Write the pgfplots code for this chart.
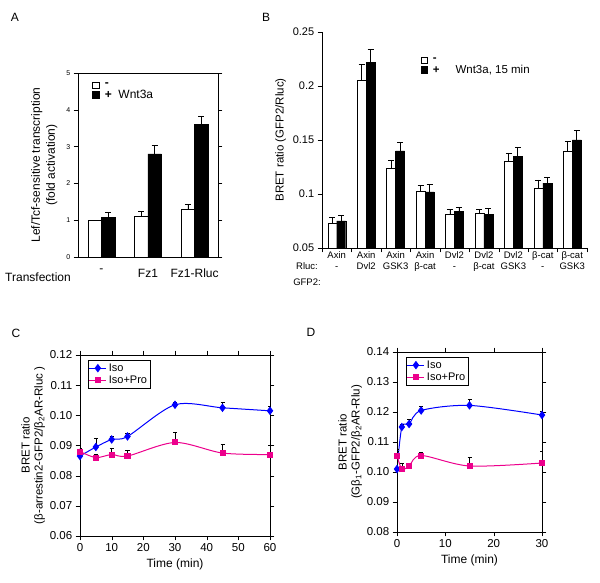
\documentclass[border=0pt]{standalone}
\usepackage{pgfplots}
\pgfplotsset{compat=1.18}
\usepackage{fontspec}
\setmainfont{Liberation Sans}
\begin{document}
\begin{tikzpicture}
\path (0pt,0pt) rectangle (600pt,582pt);
\pgfplotsset{every axis/.append style={/pgf/number format/assume math mode=true, scale only axis, tick align=outside, tick style={black}, font=\fontsize{11.5}{13}\selectfont, legend cell align=left}}
\node[font=\fontsize{12}{14}\selectfont] at (15pt,565pt) {A};
\node[font=\fontsize{12}{14}\selectfont] at (266pt,565pt) {B};
\node[font=\fontsize{12}{14}\selectfont] at (16pt,249pt) {C};
\node[font=\fontsize{12}{14}\selectfont] at (311pt,250pt) {D};
% Panel A
\begin{axis}[at={(78pt,325pt)}, anchor=south west, width=140pt, height=184pt,
 ybar=0pt, bar width=13.5pt, xmin=-0.5, xmax=2.5, ymin=0, ymax=5, ytick={0,1,2,3,4,5},
 yticklabel style={font=\fontsize{7}{8}\selectfont}, xtick=data, xticklabels={-,Fz1,Fz1-Rluc},
 xtick style={draw=none}, xticklabel style={font=\fontsize{12}{14}\selectfont, yshift=-4pt},
 ylabel={Lef/Tcf-sensitive transcription\\(fold activation)}, ylabel style={align=center, font=\fontsize{12}{15}\selectfont, yshift=2pt},
 legend style={draw=none, fill=none, at={(0.08,0.97)}, anchor=north west, font=\fontsize{12}{14}\selectfont, row sep=-2pt},
 legend image code/.code={\draw[#1, draw=black, line width=0.8pt] (0cm,-0.12cm) rectangle (0.22cm,0.12cm);},
 error bars/y dir=plus, error bars/y explicit, error bars/error bar style={black, line width=0.8pt}, error bars/error mark options={rotate=90, mark size=3pt, black, line width=0.8pt}]
\addplot[fill=white, draw=black] coordinates {(0,1) +- (0,0) (1,1.1) +- (0,0.13) (2,1.3) +- (0,0.13)};
\addplot[fill=black, draw=black] coordinates {(0,1.07) +- (0,0.15) (1,2.8) +- (0,0.24) (2,3.6) +- (0,0.23)};
\legend{\ \textbf{-},\ \textbf{+}\ \ Wnt3a}
\end{axis}
\node[font=\fontsize{12}{14}\selectfont] at (38pt,305pt) {Transfection};
% Panel B
\begin{axis}[at={(322pt,334pt)}, anchor=south west, width=265pt, height=216pt, axis lines*=left,
 ybar=0pt, bar width=9pt, xmin=-0.5, xmax=8.5, ymin=0.05, ymax=0.25, ytick={0.05,0.1,0.15,0.2,0.25},
 yticklabels={0.05,0.1,0.15,0.2,0.25}, yticklabel style={font=\fontsize{11}{12}\selectfont},
 xtick={-0.5,0.5,...,8.5}, xticklabels={}, major x tick style={draw=black},
 extra x ticks={0,...,8}, extra x tick style={major tick length=0pt},
 extra x tick labels={Axin\\-,Axin\\Dvl2,Axin\\GSK3,Axin\\β-cat,Dvl2\\-,Dvl2\\β-cat,Dvl2\\GSK3,β-cat\\-,β-cat\\GSK3},
 xticklabel style={align=center, font=\fontsize{9.5}{11.5}\selectfont},
 ylabel={BRET ratio (GFP2/Rluc)}, ylabel style={font=\fontsize{11.5}{13}\selectfont},
 legend style={draw=none, fill=none, at={(0.36,0.9)}, anchor=north west, font=\fontsize{11.5}{13}\selectfont, row sep=-2pt},
 legend image code/.code={\draw[#1, draw=black, line width=0.8pt] (0cm,-0.12cm) rectangle (0.22cm,0.12cm);},
 error bars/y dir=plus, error bars/y explicit, error bars/error bar style={black, line width=0.8pt}, error bars/error mark options={rotate=90, mark size=3pt, black, line width=0.8pt}]
\addplot[fill=white, draw=black] coordinates {(0,0.073) +- (0,0.005) (1,0.205) +- (0,0.015) (2,0.124) +- (0,0.007) (3,0.103) +- (0,0.005) (4,0.081) +- (0,0.005) (5,0.082) +- (0,0.004) (6,0.130) +- (0,0.008) (7,0.105) +- (0,0.008) (8,0.140) +- (0,0.009)};
\addplot[fill=black, draw=black] coordinates {(0,0.075) +- (0,0.005) (1,0.222) +- (0,0.012) (2,0.140) +- (0,0.008) (3,0.102) +- (0,0.007) (4,0.084) +- (0,0.004) (5,0.081) +- (0,0.006) (6,0.135) +- (0,0.008) (7,0.110) +- (0,0.005) (8,0.150) +- (0,0.009)};
\legend{\ \textbf{-},\ \textbf{+}\ \ \ \ \ Wnt3a{,} 15 min}
\end{axis}
\node[font=\fontsize{9.5}{11}\selectfont] at (307pt,316pt) {Rluc:};
\node[font=\fontsize{9.5}{11}\selectfont] at (307pt,300pt) {GFP2:};
% Panel C
\begin{axis}[at={(80pt,46pt)}, anchor=south west, width=190pt, height=181pt,
 xmin=0, xmax=60, ymin=0.06, ymax=0.12, xtick={0,10,...,60}, ytick={0.06,0.07,...,0.12},
 yticklabel style={/pgf/number format/fixed, /pgf/number format/fixed zerofill, /pgf/number format/precision=2},
 xlabel={Time (min)}, xlabel style={font=\fontsize{12}{14}\selectfont},
 ylabel={BRET ratio\\(β-arrestin2-GFP2/β\textsubscript{2}AR-Rluc )}, ylabel style={align=center, yshift=-2pt},
 legend style={at={(0.04,0.97)}, anchor=north west, draw=black, font=\fontsize{11}{13}\selectfont, inner sep=1pt, row sep=-1pt},
 error bars/y dir=plus, error bars/y explicit, error bars/error mark options={rotate=90, mark size=2pt, black}, error bars/error bar style={black}]
\addplot[blue, line width=1pt, smooth, mark=diamond*, mark size=3.5pt] coordinates {(0,0.0865) +- (0,0.001) (5,0.0895) +- (0,0.003) (10,0.092) +- (0,0.001) (15,0.093) +- (0,0.001) (30,0.1035) +- (0,0.001) (45,0.1025) +- (0,0.002) (60,0.1015) +- (0,0.0015)};
\addplot[magenta, line width=1pt, smooth, mark=square*, mark size=2.5pt] coordinates {(0,0.088) +- (0,0.001) (5,0.086) +- (0,0.001) (10,0.087) +- (0,0.002) (15,0.0865) +- (0,0.002) (30,0.091) +- (0,0.0035) (45,0.0875) +- (0,0.003) (60,0.087) +- (0,0.003)};
\legend{Iso,Iso+Pro}
\end{axis}
% Panel D
\begin{axis}[at={(397pt,50pt)}, anchor=south west, width=145pt, height=180pt,
 xmin=0, xmax=30, ymin=0.08, ymax=0.14, xtick={0,10,20,30}, ytick={0.08,0.09,...,0.14},
 yticklabel style={/pgf/number format/fixed, /pgf/number format/fixed zerofill, /pgf/number format/precision=2},
 xlabel={Time (min)}, xlabel style={font=\fontsize{12}{14}\selectfont},
 ylabel={BRET ratio\\(Gβ\textsubscript{1}-GFP2/β\textsubscript{2}AR-Rlu)}, ylabel style={align=center, yshift=-2pt},
 legend style={at={(0.06,0.97)}, anchor=north west, draw=black, font=\fontsize{11}{13}\selectfont, inner sep=1pt, row sep=-1pt},
 error bars/y dir=plus, error bars/y explicit, error bars/error mark options={rotate=90, mark size=2pt, black}, error bars/error bar style={black}]
\addplot[blue, line width=1pt, smooth, mark=diamond*, mark size=3.5pt] coordinates {(0,0.101) +- (0,0.006) (1,0.115) +- (0,0.001) (2.5,0.116) +- (0,0.0015) (5,0.1205) +- (0,0.0015) (15,0.1222) +- (0,0.002) (30,0.119) +- (0,0.0012)};
\addplot[magenta, line width=1pt, smooth, mark=square*, mark size=2.5pt] coordinates {(0,0.1055) +- (0,0.002) (1,0.101) +- (0,0.002) (2.5,0.102) +- (0,0.001) (5,0.1055) +- (0,0.001) (15,0.102) +- (0,0.003) (30,0.103) +- (0,0.004)};
\legend{Iso,Iso+Pro}
\end{axis}
\end{tikzpicture}
\end{document}
